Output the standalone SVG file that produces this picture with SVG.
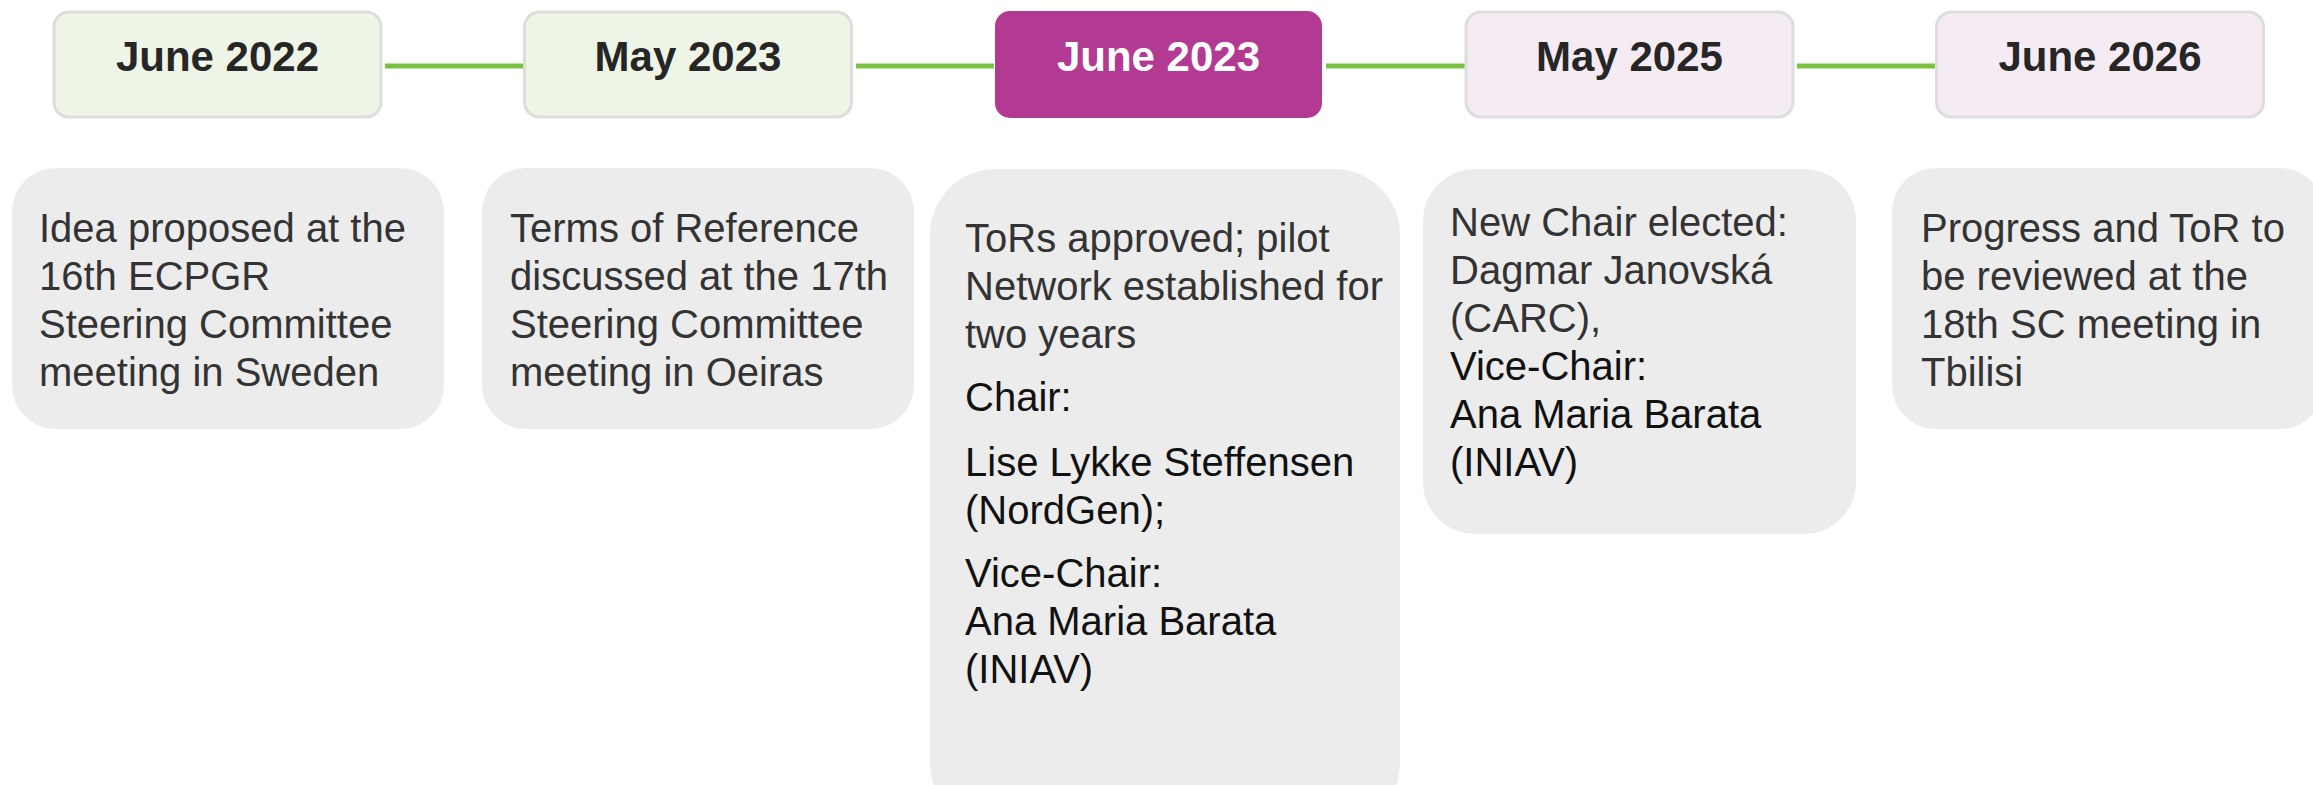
<svg xmlns="http://www.w3.org/2000/svg" width="2313" height="785" viewBox="0 0 2313 785">
<style>
.lbl{font-family:"Liberation Sans",Arial,sans-serif;font-weight:bold;font-size:42px;text-anchor:middle}
.green{fill:#eef5e7;stroke:#dddddd;stroke-width:3}
.pink{fill:#f5ebf3;stroke:#dddddd;stroke-width:3}
.purple{fill:#b33a93}
.card{fill:#ececec}
.txt{font-family:"Liberation Sans",Arial,sans-serif;font-size:40px;fill:#333333}
.blk{fill:#111111}
.conn{stroke:#7bc143;stroke-width:5}
</style>
<rect width="2313" height="785" fill="#ffffff"/>
<g id="connectors">
<line class="conn" x1="385" y1="66" x2="523" y2="66"/>
<line class="conn" x1="856" y1="66" x2="994" y2="66"/>
<line class="conn" x1="1326" y1="66" x2="1465" y2="66"/>
<line class="conn" x1="1797" y1="66" x2="1935" y2="66"/>
</g>
<g id="n-june2022"><rect class="green" x="54" y="12" width="327" height="105" rx="15"/><text class="lbl" x="217.5" y="71" fill="#262626">June 2022</text></g>
<g id="n-may2023"><rect class="green" x="524.5" y="12" width="327" height="105" rx="15"/><text class="lbl" x="688" y="71" fill="#262626">May 2023</text></g>
<g id="n-june2023"><rect class="purple" x="995" y="11" width="327" height="107" rx="15"/><text class="lbl" x="1158.5" y="71" fill="#ffffff">June 2023</text></g>
<g id="n-may2025"><rect class="pink" x="1466" y="12" width="327" height="105" rx="15"/><text class="lbl" x="1629.5" y="71" fill="#262626">May 2025</text></g>
<g id="n-june2026"><rect class="pink" x="1936.5" y="12" width="327" height="105" rx="15"/><text class="lbl" x="2100" y="71" fill="#262626">June 2026</text></g>

<g id="d-1"><rect class="card" x="12" y="168" width="432" height="261" rx="44"/>
<text class="txt"><tspan x="39" y="242">Idea proposed at the</tspan><tspan x="39" y="290">16th ECPGR</tspan><tspan x="39" y="338">Steering Committee</tspan><tspan x="39" y="386">meeting in Sweden</tspan></text></g>
<g id="d-2"><rect class="card" x="482" y="168" width="432" height="261" rx="44"/>
<text class="txt"><tspan x="510" y="242">Terms of Reference</tspan><tspan x="510" y="290">discussed at the 17th</tspan><tspan x="510" y="338">Steering Committee</tspan><tspan x="510" y="386">meeting in Oeiras</tspan></text></g>
<g id="d-3"><rect class="card" x="930" y="169" width="470" height="660" rx="66"/>
<text class="txt"><tspan x="965" y="252">ToRs approved; pilot</tspan><tspan x="965" y="300">Network established for</tspan><tspan x="965" y="348">two years</tspan></text>
<text class="txt blk"><tspan x="965" y="411">Chair:</tspan><tspan x="965" y="476">Lise Lykke Steffensen</tspan><tspan x="965" y="524">(NordGen);</tspan><tspan x="965" y="587">Vice-Chair:</tspan><tspan x="965" y="635">Ana Maria Barata</tspan><tspan x="965" y="683">(INIAV)</tspan></text></g>
<g id="d-4"><rect class="card" x="1423" y="169" width="433" height="365" rx="52"/>
<text class="txt"><tspan x="1450" y="236">New Chair elected:</tspan><tspan x="1450" y="284">Dagmar Janovská</tspan><tspan x="1450" y="332">(CARC),</tspan></text>
<text class="txt blk"><tspan x="1450" y="380">Vice-Chair:</tspan><tspan x="1450" y="428">Ana Maria Barata</tspan><tspan x="1450" y="476">(INIAV)</tspan></text></g>
<g id="d-5"><rect class="card" x="1892" y="168" width="432" height="261" rx="44"/>
<text class="txt"><tspan x="1921" y="242">Progress and ToR to</tspan><tspan x="1921" y="290">be reviewed at the</tspan><tspan x="1921" y="338">18th SC meeting in</tspan><tspan x="1921" y="386">Tbilisi</tspan></text></g>
</svg>
